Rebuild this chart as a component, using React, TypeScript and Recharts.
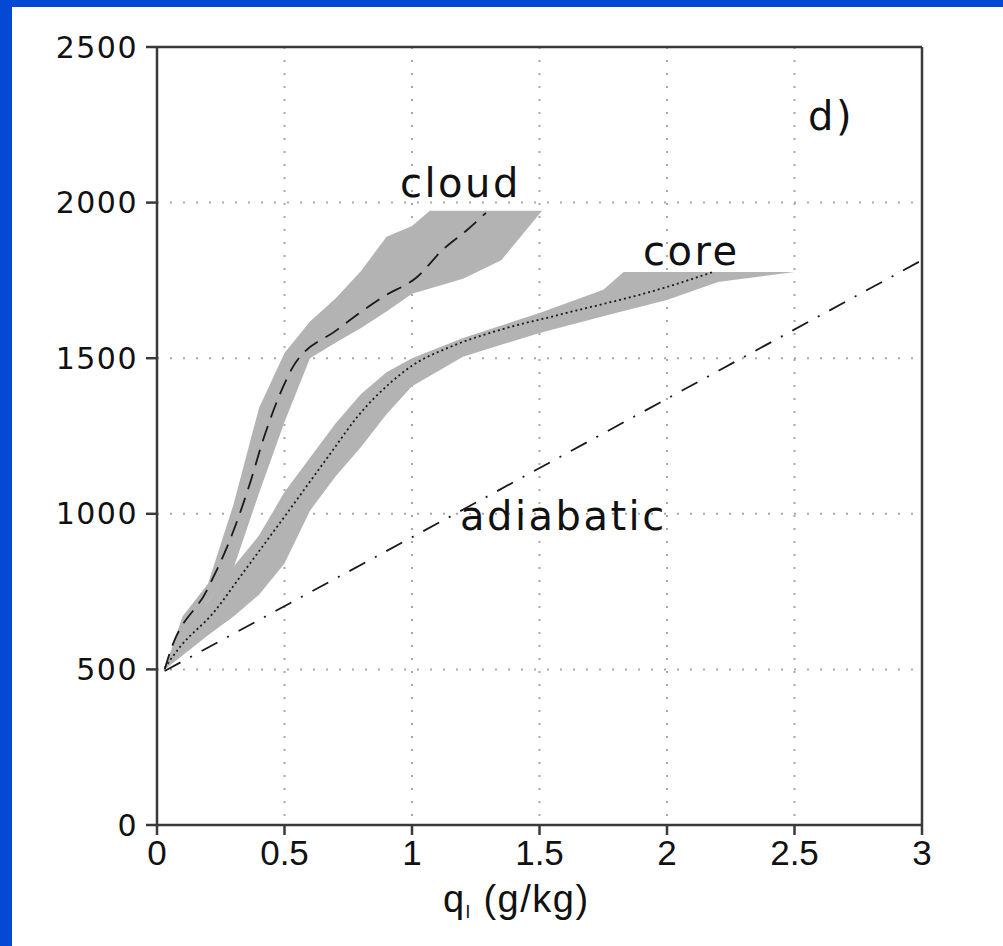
import React from 'react';
import { ComposedChart, Area, Line, XAxis, YAxis, CartesianGrid, ReferenceLine } from 'recharts';

const xTicks = [0, 0.5, 1, 1.5, 2, 2.5, 3];
const yTicks = [0, 500, 1000, 1500, 2000, 2500];

// cloud envelope (shaded) and mean (dashed)
const cloudQ = [0.03, 0.1, 0.2, 0.3, 0.4, 0.5, 0.6, 0.7, 0.8, 0.9, 1.0, 1.07, 1.2, 1.35, 1.51];
const cloudLow = [500, 590, 720, 825, 1066, 1295, 1500, 1550, 1597, 1650, 1707, 1724, 1755, 1815, 1974];
const cloudHigh = [500, 670, 775, 1030, 1340, 1517, 1618, 1692, 1780, 1890, 1925, 1974, 1974, 1974, 1974];
const cloudMeanQ = [0.03, 0.05, 0.196, 0.286, 0.365, 0.416, 0.494, 0.533, 0.706, 0.886, 1.02, 1.12, 1.216, 1.29];
const cloudMeanZ = [500, 553, 755, 916, 1099, 1237, 1407, 1472, 1591, 1697, 1761, 1848, 1912, 1967];

// core envelope (shaded) and mean (dotted)
const coreQ = [0.03, 0.1, 0.2, 0.3, 0.4, 0.5, 0.6, 0.7, 0.8, 0.9, 1.0, 1.2, 1.5, 1.75, 1.83, 2.0, 2.2, 2.5];
const coreLow = [500, 545, 610, 670, 740, 840, 1010, 1120, 1215, 1320, 1410, 1505, 1581, 1635, 1652, 1687, 1745, 1777];
const coreHigh = [500, 610, 720, 830, 930, 1070, 1180, 1290, 1385, 1455, 1500, 1565, 1645, 1720, 1777, 1777, 1777, 1777];
const coreMeanQ = [0.03, 0.09, 0.22, 0.337, 0.51, 0.69, 0.784, 0.914, 1.004, 1.149, 1.345, 1.58, 2.0, 2.18];
const coreMeanZ = [505, 572, 681, 810, 1002, 1205, 1310, 1420, 1478, 1536, 1591, 1640, 1729, 1777];

// adiabatic profile
const adiabaticQ = [0.03, 1.17, 3];
const adiabaticZ = [495, 1000, 1815];

const cloudBand = cloudQ.map((q, i) => ({ q, range: [cloudLow[i], cloudHigh[i]] }));
const coreBand = coreQ.map((q, i) => ({ q, range: [coreLow[i], coreHigh[i]] }));
const cloudMean = cloudMeanQ.map((q, i) => ({ q, z: cloudMeanZ[i] }));
const coreMean = coreMeanQ.map((q, i) => ({ q, z: coreMeanZ[i] }));
const adiabatic = adiabaticQ.map((q, i) => ({ q, z: adiabaticZ[i] }));

const AXIS = '#3a3a3a';
const BAND = '#b3b3b3';

export default function App() {
  return (
    <div style={{ position: 'absolute', left: 0, top: 0, width: 1003, height: 946, background: '#0449d6' }}>
      <div style={{ position: 'absolute', left: 12, top: 7, width: 991, height: 939, background: '#ffffff' }} />
      <div style={{ position: 'absolute', left: 0, top: 0 }}>
        <ComposedChart width={1003} height={946} margin={{ top: 47, right: 81, bottom: 0, left: 0 }}>
          <CartesianGrid
            stroke="#a8a8a8"
            strokeDasharray="2 11"
            strokeWidth={2}
            horizontalValues={[500, 1000, 1500, 2000]}
            verticalValues={[0.5, 1, 1.5, 2, 2.5]}
          />
          <XAxis
            dataKey="q"
            type="number"
            domain={[0, 3]}
            ticks={xTicks}
            height={121}
            stroke={AXIS}
            strokeWidth={2.5}
            tickSize={10}
            tickMargin={5}
            tick={{ fill: '#111', fontSize: 35, fontFamily: 'Liberation Sans, Arial, sans-serif' }}
            allowDataOverflow
          />
          <YAxis
            dataKey="z"
            type="number"
            domain={[0, 2500]}
            ticks={yTicks}
            width={157}
            stroke={AXIS}
            strokeWidth={2.5}
            tickSize={11}
            tickMargin={8}
            tick={{ fill: '#111', fontSize: 30, fontFamily: 'DejaVu Sans, sans-serif', letterSpacing: 1.5 }}
            allowDataOverflow
          />
          <ReferenceLine x={3} stroke={AXIS} strokeWidth={2.5} />
          <ReferenceLine y={2500} stroke={AXIS} strokeWidth={2.5} />
          <Area
            data={cloudBand}
            dataKey="range"
            type="linear"
            stroke="none"
            fill={BAND}
            fillOpacity={1}
            isAnimationActive={false}
          />
          <Area
            data={coreBand}
            dataKey="range"
            type="linear"
            stroke="none"
            fill={BAND}
            fillOpacity={1}
            isAnimationActive={false}
          />
          <Line
            data={cloudMean}
            dataKey="z"
            type="monotone"
            stroke="#1a1a1a"
            strokeWidth={1.8}
            strokeDasharray="16 9"
            dot={false}
            isAnimationActive={false}
          />
          <Line
            data={coreMean}
            dataKey="z"
            type="monotone"
            stroke="#1a1a1a"
            strokeWidth={1.8}
            strokeDasharray="2 3"
            dot={false}
            isAnimationActive={false}
          />
          <Line
            data={adiabatic}
            dataKey="z"
            type="linear"
            stroke="#1a1a1a"
            strokeWidth={1.8}
            strokeDasharray="18 11 2 11"
            dot={false}
            isAnimationActive={false}
          />
        </ComposedChart>
      </div>
      <svg width={1003} height={946} style={{ position: 'absolute', left: 0, top: 0, pointerEvents: 'none' }}>
        <g fill="#111" fontFamily="DejaVu Sans, sans-serif" fontSize={40} letterSpacing={2.5}>
          <text x={400} y={197}>cloud</text>
          <text x={643} y={265}>core</text>
          <text x={460} y={530}>adiabatic</text>
          <text x={808} y={130}>d)</text>
        </g>
        <text x={443} y={912} fill="#111" fontFamily="Liberation Sans, Arial, sans-serif" fontSize={38} letterSpacing={1.5}>
          q<tspan fontSize={19} dy={6}>l</tspan>
          <tspan dy={-6}>{'  (g/kg)'}</tspan>
        </text>
      </svg>
    </div>
  );
}
